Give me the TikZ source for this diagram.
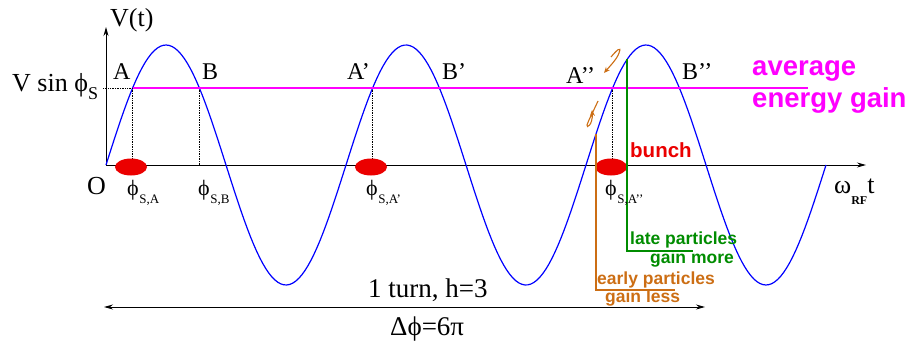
\documentclass[tikz,border=0pt]{standalone}
\usepackage{fontspec}
\setmainfont{Liberation Serif}
\setsansfont{Liberation Sans}
\usetikzlibrary{arrows.meta}
\definecolor{waveblue}{RGB}{0,0,255}
\definecolor{avgmag}{RGB}{255,0,255}
\definecolor{bunchred}{RGB}{235,0,0}
\definecolor{earlyor}{RGB}{204,110,20}
\definecolor{lategr}{RGB}{0,140,0}
\newcommand\phisub[1]{ϕ\kern0.5pt\raisebox{-8pt}{\fontsize{13}{13}\selectfont #1}}

\begin{document}
\begin{tikzpicture}[x=1pt, y=-1pt,
  axis/.style={line width=0.9pt, -{Stealth[length=9pt, width=5pt]}},
  wave/.style={waveblue, line width=1.2pt},
  guide/.style={densely dotted, line width=0.7pt},
  big/.style={font=\fontsize{26}{28}\selectfont, inner sep=0pt, anchor=base west},
  ptlab/.style={font=\fontsize{24}{26}\selectfont, inner sep=0pt, anchor=base west},
  phlab/.style={font=\fontsize{22}{24}\selectfont, inner sep=0pt, anchor=base west},
  note/.style={font=\fontsize{17.5}{19}\selectfont\sffamily\bfseries, inner sep=0pt,
               anchor=base west},
  curl/.style={earlyor, line width=1.1pt, -{Stealth[length=6pt, width=5pt]}}
]
\useasboundingbox (0,0) rectangle (912,345);
% axes
\coordinate (O) at (106,165);
\coordinate (xend) at (866,165);
\coordinate (yend) at (106,27);
\draw[axis] (O) -- (xend);
\draw[axis] (O) -- (yend);
% one turn, h=3
\draw[wave] plot[domain=0:1080, samples=240] ({106+\x*2/3}, {165-120*sin(\x)});
% synchronous points on the wave
\coordinate (A)   at (132.7,87.9);
\coordinate (B)   at (199.3,87.9);
\coordinate (A1)  at (372.7,87.9);
\coordinate (A2)  at (612.7,87.9);
\coordinate (yA)  at (103,87.9);
\coordinate (avgend) at (808,87.9);
\draw[guide] (yA) -- (A);
\draw[guide] (A)  -- (A |- O);
\draw[guide] (B)  -- (B |- O);
\draw[guide] (A1) -- (A1 |- O);
\draw[guide] (A2) -- (A2 |- O);
\draw[avgmag, line width=2pt] (A) -- (avgend);
% bunches
\fill[bunchred] (131,167) ellipse [x radius=16, y radius=8.5];
\fill[bunchred] (371,167) ellipse [x radius=16, y radius=8.5];
\fill[bunchred] (611,167) ellipse [x radius=16, y radius=8.5];
% early / late particles
\coordinate (lateTop)   at (627,59.5);
\coordinate (lateBot)   at (627,251);
\coordinate (lateEnd)   at (693,251);
\coordinate (earlyTop)  at (596,134);
\coordinate (earlyBot)  at (596,290);
\coordinate (earlyEnd)  at (675,290);
\draw[lategr, line width=1.1pt] (lateTop) -- (lateBot) -- (lateEnd);
\draw[earlyor, line width=1.1pt] (earlyTop) -- (earlyBot) -- (earlyEnd);
\draw[curl] (611,57) .. controls (616,51) and (622,45) .. (619,53) .. controls (617,59) and (610,66) .. (604,73);
\draw[curl] (598,101) .. controls (594,110) and (589,119) .. (587,125) .. controls (586,129) and (593,125) .. (592,110);
% 1 turn
\coordinate (turnL) at (104,307);
\coordinate (turnR) at (705,307);
\draw[line width=0.9pt, {Stealth[length=9pt, width=5pt]}-{Stealth[length=9pt, width=5pt]}] (turnL) -- (turnR);
% labels
\node[big] (vt)   at (110,27) {V(t)};
\node[big] (vsin) at (12,91) {V sin ϕ\raisebox{-8pt}{\fontsize{18}{18}\selectfont S}};
\node[big] (olab) at (87,194) {O};
\node[ptlab] (lA)  at (113,79) {A};
\node[ptlab] (lB)  at (202,79) {B};
\node[ptlab] (lA1) at (347,79) {A’};
\node[ptlab] (lB1) at (442,79) {B’};
\node[ptlab] (lA2) at (566,83) {A’’};
\node[ptlab] (lB2) at (682,79) {B’’};
\node[phlab] (pA)  at (127,195) {\phisub{S,A}};
\node[phlab] (pB)  at (198,195) {\phisub{S,B}};
\node[phlab] (pA1) at (366,195) {\phisub{S,A’}};
\node[phlab] (pA2) at (605,195) {\phisub{S,A’’}};
\node[phlab, font=\fontsize{26}{27}\selectfont] (wrf) at (834,193)
  {ω\raisebox{-11pt}{\fontsize{12}{12}\selectfont\bfseries RF}\kern0pt t};
\node[big, font=\fontsize{27}{28}\selectfont] (turn)  at (368,297) {1 turn, h=3};
\node[big, font=\fontsize{27}{28}\selectfont] (dphi)  at (390,335) {Δϕ=6π};
\node[note, avgmag, font=\fontsize{27.5}{29}\selectfont\sffamily\bfseries] (avg1) at (752,75) {average};
\node[note, avgmag, font=\fontsize{27.5}{29}\selectfont\sffamily\bfseries] (avg2) at (752,107) {energy gain};
\node[note, bunchred, font=\fontsize{20.5}{22}\selectfont\sffamily\bfseries] (bunch) at (630,157) {bunch};
\node[note, lategr]  (late1)  at (630,244) {late particles};
\node[note, lategr]  (late2)  at (650,263) {gain more};
\node[note, earlyor] (early1) at (597,284) {early particles};
\node[note, earlyor] (early2) at (605,302) {gain less};
\end{tikzpicture}
\end{document}
